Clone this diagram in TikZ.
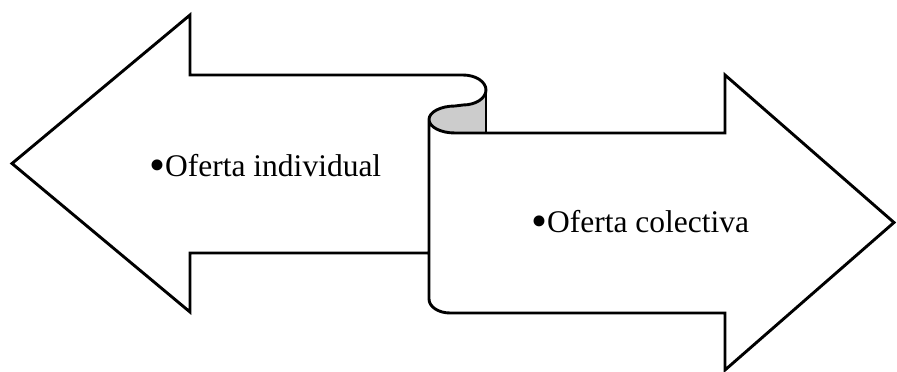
\documentclass[tikz,border=0pt]{standalone}
\usepackage{fontspec}
\setmainfont{Liberation Serif}
\newcommand{\bigbul}{\raisebox{-0.14em}{\scalebox{1.45}{\textbullet}}}
\begin{document}
\begin{tikzpicture}[x=1pt,y=-1pt,
  outline/.style={draw=black,line width=2.9pt,line join=miter},
  curlfill/.style={fill=black!20},
  label/.style={font=\fontsize{31.5}{37}\selectfont,anchor=base west,inner sep=0pt}]
\useasboundingbox (0,0) rectangle (897,372);
% gray underside of the curl
\fill[curlfill] (486,90) arc[start angle=0,end angle=-90,x radius=23pt,y radius=15pt]
  -- (455,106) arc[start angle=90,end angle=270,x radius=26pt,y radius=13.5pt]
  -- (486,133) -- cycle;
% main outline
\draw[outline] (429,253) -- (190,253) -- (190,312) -- (12,163.5) -- (190,15) -- (190,75)
  -- (463,75) arc[start angle=90,end angle=-90,x radius=23pt,y radius=15pt]
  -- (455,106) arc[start angle=90,end angle=270,x radius=26pt,y radius=13.5pt]
  -- (725,133) -- (725,75) -- (894,222.5) -- (725,370) -- (725,313)
  -- (450,313) arc[start angle=270,end angle=180,x radius=21pt,y radius=14pt]
  -- (429,119.5);
\draw[outline] (486,90) -- (486,133);
% texts
\node[label] (ind) at (149,176) {\bigbul Oferta individual};
\node[label] (col) at (531,232) {\bigbul Oferta colectiva};
\end{tikzpicture}
\end{document}
